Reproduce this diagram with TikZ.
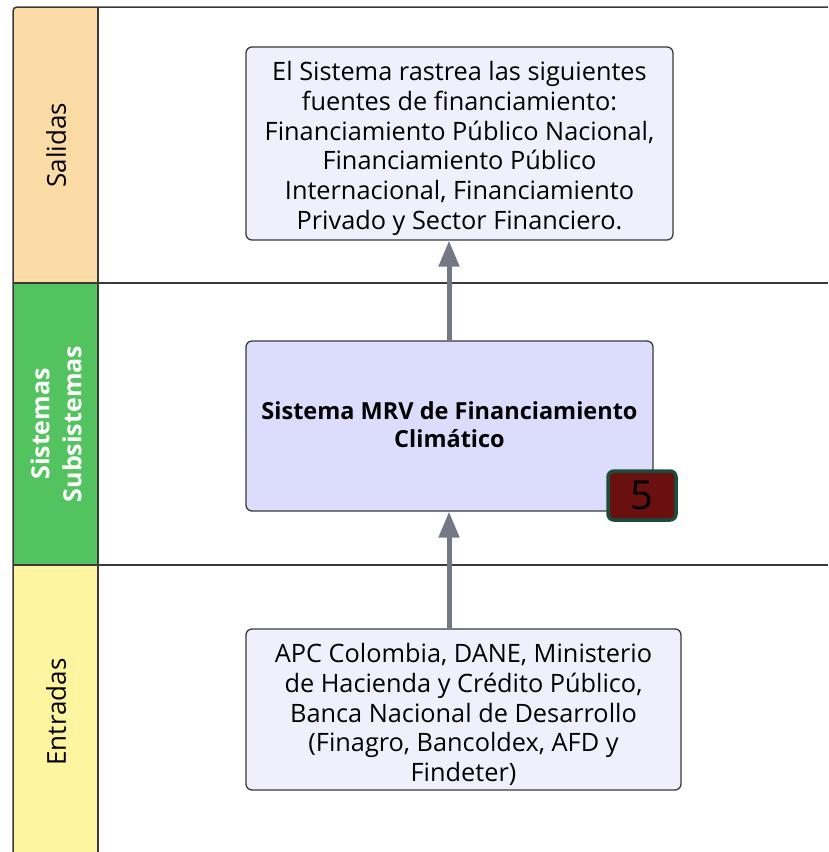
\documentclass[tikz,border=0pt]{standalone}
\usepackage{fontspec}
\setmainfont{Open Sans}
\usetikzlibrary{arrows.meta}
\definecolor{lineC}{HTML}{3A3A3A}
\definecolor{salC}{HTML}{FCDCA6}
\definecolor{sisC}{HTML}{52C35E}
\definecolor{entC}{HTML}{FFF5A0}
\definecolor{boxA}{HTML}{F0F0FC}
\definecolor{boxB}{HTML}{DCDCFC}
\definecolor{arrC}{HTML}{737885}
\definecolor{badgeF}{HTML}{6B1010}
\definecolor{badgeD}{HTML}{1B4D3E}
\tikzset{
  lane/.style={draw=lineC, line width=1.5pt},
  card/.style={draw=lineC, line width=1.3pt, rounded corners=6pt, inner sep=0pt},
  cardtext/.style={align=center, inner sep=0pt, font=\fontsize{25.3}{29.7}\selectfont},
  flow/.style={draw=arrC, line width=5pt, -{Triangle[width=20pt,length=26pt]}},
  lanelbl/.style={rotate=90, font=\fontsize{26}{32}\selectfont, align=center}
}
\begin{document}
\begin{tikzpicture}[x=1pt,y=-1pt]
\useasboundingbox (0,0) rectangle (828,852);
% lane fills
\fill[salC] (13,7) rectangle (98,283);
\fill[sisC] (13,283) rectangle (98,565);
\fill[entC] (13,565) rectangle (98,852);
% lane lines
\draw[lane, rounded corners=4pt] (13,852) -- (13,7) -- (828,7);
\draw[lane] (98,7) -- (98,852);
\draw[lane] (13,283) -- (828,283);
\draw[lane] (13,565) -- (828,565);
% labels
\node[lanelbl] (lsal) at (56,145) {Salidas};
\node[lanelbl, text=white, font=\fontsize{25}{32}\selectfont\bfseries] (lsis) at (56,424) {Sistemas\\Subsistemas};
\node[lanelbl] (lent) at (56,712) {Entradas};
% boxes
\node[card, fill=boxA, minimum width=427pt, minimum height=193pt] (out) at (459.5,143.5) {};
\node[cardtext] (outtxt) at ([yshift=-5pt]out.center)
  {El Sistema rastrea las siguientes\\fuentes de financiamiento:\\Financiamiento Público Nacional,\\Financiamiento Público\\Internacional, Financiamiento\\Privado y Sector Financiero.};
\node[card, fill=boxB, minimum width=407pt, minimum height=170pt] (sys) at (449.5,426) {};
\node[cardtext, font=\fontsize{23.5}{28}\selectfont\bfseries] (systxt) at ([yshift=1pt]sys.center)
  {Sistema MRV de Financiamiento\\Climático};
\node[card, fill=boxA, minimum width=435pt, minimum height=161pt] (inp) at (463.5,709.5) {};
\node[cardtext] (inptxt) at ([yshift=-5pt]inp.center)
  {APC Colombia, DANE, Ministerio\\de Hacienda y Crédito Público,\\Banca Nacional de Desarrollo\\(Finagro, Bancoldex, AFD y\\Findeter)};
% badge
\node[draw=badgeD, fill=badgeF, line width=3.5pt, rounded corners=6pt, minimum width=68pt, minimum height=49pt, inner sep=0pt, font=\fontsize{40}{40}\selectfont] (badge) at (642,495.5) {5};
% arrows
\coordinate (a1s) at (449,341);
\coordinate (a1e) at (449,240);
\coordinate (a2s) at (449,629);
\coordinate (a2e) at (449,511);
\draw[flow] (sys.north -| a1s) -- (out.south -| a1e);
\draw[flow] (inp.north -| a2s) -- (sys.south -| a2e);
\end{tikzpicture}
\end{document}
